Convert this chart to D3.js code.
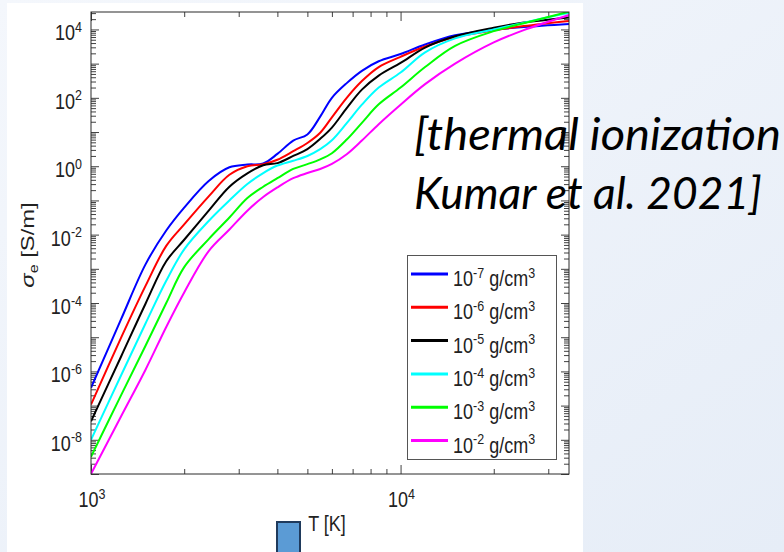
<!DOCTYPE html>
<html>
<head>
<meta charset="utf-8">
<script src="https://cdn.jsdelivr.net/npm/d3@7"></script>
<style>
  body { margin: 0; background: #eef3fa; }
  svg { display: block; }
</style>
</head>
<body>
<div class="sigma"></div>
<script>
// temperature grid [K]
var temps = [1000, 1250, 1500, 1750, 2000, 2400, 2800, 3200, 3600, 4000, 4500, 5000,
             5500, 6000, 6700, 7500, 8500, 10000, 12000, 15000, 20000, 25000, 35000];

// log10 of sigma_e [S/m], one array per density
var rho1e7 = [-6.48, -4.48, -2.87, -1.88, -1.21, -0.43, -0.03, 0.05, 0.08, 0.36, 0.75, 0.93,
              1.45, 2.0, 2.43, 2.79, 3.07, 3.28, 3.56, 3.83, 3.99, 4.07, 4.16];
var rho1e6 = [-6.97, -5.02, -3.5, -2.33, -1.7, -0.88, -0.25, 0.0, 0.06, 0.19, 0.44, 0.68,
              0.98, 1.43, 2.0, 2.49, 2.9, 3.2, 3.5, 3.78, 3.97, 4.1, 4.25];
var rho1e5 = [-7.46, -5.57, -4.02, -2.78, -2.15, -1.3, -0.6, -0.21, 0.03, 0.09, 0.3, 0.5,
              0.8, 1.13, 1.7, 2.24, 2.65, 3.02, 3.47, 3.8, 4.05, 4.2, 4.35];
var rho1e4 = [-8.0, -6.12, -4.6, -3.35, -2.43, -1.6, -1.0, -0.52, -0.2, 0.02, 0.16, 0.3,
              0.5, 0.76, 1.26, 1.8, 2.3, 2.74, 3.33, 3.74, 4.0, 4.2, 4.49];
var rho1e3 = [-8.5, -6.7, -5.25, -4.0, -2.95, -2.13, -1.5, -0.93, -0.6, -0.35, -0.08, 0.06,
              0.2, 0.38, 0.78, 1.27, 1.81, 2.3, 2.9, 3.52, 3.95, 4.18, 4.52];
var rho1e2 = [-9.0, -7.32, -5.95, -4.7, -3.69, -2.48, -1.85, -1.3, -0.9, -0.62, -0.35, -0.2,
              -0.08, 0.07, 0.35, 0.75, 1.23, 1.8, 2.4, 3.0, 3.62, 3.98, 4.42];

var densityExp = ["-7", "-6", "-5", "-4", "-3", "-2"];
var seriesData = [rho1e7, rho1e6, rho1e5, rho1e4, rho1e3, rho1e2];
var colors = ["#0000ff", "#ff0000", "#000000", "#00ffff", "#00ff00", "#ff00ff"];

var xTickExp = [3, 4];
var yTickExp = [-8, -6, -4, -2, 0, 2, 4];

// set the dimensions and margins of the graph
var margin = {top: 12, left: 91};
var width = 478, height = 462;
var stretch = 1.2;   // the figure text is taller than wide in the slide

var svg = d3.select(".sigma")
    .append("svg")
    .attr("width", 784)
    .attr("height", 552);

// slide background
var defs = svg.append("defs");
var grad = defs.append("linearGradient")
    .attr("id", "bg").attr("x1", "0").attr("y1", "0").attr("x2", "1").attr("y2", "1");
grad.append("stop").attr("offset", "0").attr("stop-color", "#f4f7fc");
grad.append("stop").attr("offset", "1").attr("stop-color", "#e6edf7");
svg.append("rect").attr("width", 784).attr("height", 552).attr("fill", "url(#bg)");
svg.append("rect").attr("x", 7).attr("y", 3).attr("width", 576).attr("height", 549).attr("fill", "#ffffff");

defs.append("clipPath").attr("id", "plotclip")
    .append("rect").attr("width", width).attr("height", height);

var g = svg.append("g")
    .attr("transform", "translate(" + margin.left + "," + margin.top + ")");

// axes
var x = d3.scaleLog().domain([1000, 35000]).range([0, width]);
var y = d3.scaleLog().domain([1e-9, Math.pow(10, 4.51)]).range([height, 0]);

var xMajor = [1000, 10000];
var xMinor = [];
[1000, 10000].forEach(function(b) {
  for (var m = 2; m <= 9; m++) if (b * m <= 35000) xMinor.push(b * m);
});
var yMajor = [], yMinor = [];
for (var k = -9; k <= 4; k++) {
  yMajor.push(Math.pow(10, k));
  for (var m = 2; m <= 9; m++) if (m * Math.pow(10, k) <= Math.pow(10, 4.51)) yMinor.push(m * Math.pow(10, k));
}

function tickAxis(axis, vals, size) {
  return axis.tickValues(vals).tickSize(size).tickSizeOuter(0).tickFormat("");
}
var axisColor = "#2b2b2b";
[
  [d3.axisBottom(x), xMajor, -9, "translate(0," + height + ")"],
  [d3.axisBottom(x), xMinor, -5, "translate(0," + height + ")"],
  [d3.axisTop(x), xMajor, -9, "translate(0,0)"],
  [d3.axisTop(x), xMinor, -5, "translate(0,0)"],
  [d3.axisLeft(y), yMajor, -8, "translate(0,0)"],
  [d3.axisLeft(y), yMinor, -5, "translate(0,0)"],
  [d3.axisRight(y), yMajor, -8, "translate(" + width + ",0)"],
  [d3.axisRight(y), yMinor, -5, "translate(" + width + ",0)"]
].forEach(function(a) {
  var ax = g.append("g").attr("transform", a[3]).call(tickAxis(a[0], a[1], a[2]));
  ax.select(".domain").remove();
  ax.selectAll("line").attr("stroke", axisColor).attr("stroke-width", 0.9);
});

// lines
var line = d3.line()
    .x(function(d) { return x(d.t); })
    .y(function(d) { return y(Math.pow(10, d.v)); })
    .curve(d3.curveCatmullRom.alpha(0.5));

var lines = g.append("g").attr("clip-path", "url(#plotclip)");
seriesData.forEach(function(s, i) {
  var pts = temps.map(function(t, j) { return {t: t, v: s[j]}; });
  lines.append("path")
      .datum(pts)
      .attr("fill", "none")
      .attr("stroke", colors[i])
      .attr("stroke-width", 2)
      .attr("d", line);
});

// box
g.append("rect").attr("width", width).attr("height", height)
    .attr("fill", "none").attr("stroke", axisColor).attr("stroke-width", 1);

var font = "'Liberation Sans', Arial, sans-serif";

function placeText(parent, px, py, anchor) {
  return parent.append("text")
      .attr("transform", "translate(" + px + "," + py + ") scale(1," + stretch + ")")
      .attr("text-anchor", anchor)
      .style("font-family", font).style("font-size", "18px").style("fill", "#222");
}
function powLabel(sel, exp) {
  sel.append("tspan").text("10");
  sel.append("tspan").attr("dy", -7).style("font-size", "12.5px").text(exp);
}

// x tick labels
xTickExp.forEach(function(e) {
  powLabel(placeText(g, x(Math.pow(10, e)) + 1, height + 33, "middle"), e);
});

// y tick labels
yTickExp.forEach(function(e) {
  powLabel(placeText(g, -9, y(Math.pow(10, e)) + 11, "end"), e);
});

// axis titles
placeText(svg, margin.left + width / 2 - 3, 531, "middle").text("T [K]");

var yl = svg.append("text")
    .attr("transform", "translate(34," + (margin.top + height / 2 + 2) + ") scale(1," + (stretch + 0.05) + ") rotate(-90)")
    .attr("text-anchor", "middle")
    .style("font-family", font).style("font-size", "19px").style("fill", "#222");
yl.append("tspan").style("font-style", "italic").text("σ");
yl.append("tspan").attr("dy", 4).style("font-size", "13px").text("e");
yl.append("tspan").attr("dy", -4).text(" [S/m]");

// legend
var legend = svg.append("g");
legend.append("rect")
    .attr("x", 407.5).attr("y", 255.5).attr("width", 149).attr("height", 204)
    .attr("fill", "#fff").attr("stroke", "#555").attr("stroke-width", 1);
densityExp.forEach(function(e, i) {
  var ly = 274 + i * 33.3;
  legend.append("line")
      .attr("x1", 411).attr("x2", 448).attr("y1", ly).attr("y2", ly)
      .attr("stroke", colors[i]).attr("stroke-width", 3);
  var t = placeText(legend, 453, ly + 12, "start");
  t.append("tspan").text("10");
  t.append("tspan").attr("dy", -7).style("font-size", "12.5px").text(e);
  t.append("tspan").attr("dy", 7).text(" g/cm");
  t.append("tspan").attr("dy", -7).style("font-size", "12.5px").text("3");
});

// slide annotation
var note = ["[thermal ionization", "Kumar et al. 2021]"];
var noteWidth = [367, 348];
note.forEach(function(s, i) {
  svg.append("text")
      .attr("x", 414).attr("y", 150 + i * 59)
      .attr("textLength", noteWidth[i]).attr("lengthAdjust", "spacingAndGlyphs")
      .style("font-family", "Lato, 'Open Sans', sans-serif")
      .style("font-style", "italic").style("font-size", "44px").style("fill", "#000")
      .text(s);
});

// slide marker
svg.append("rect")
    .attr("x", 277).attr("y", 522).attr("width", 23).attr("height", 40)
    .attr("fill", "#5b9bd5").attr("stroke", "#1f3a5c").attr("stroke-width", 2);
</script>
</body>
</html>
